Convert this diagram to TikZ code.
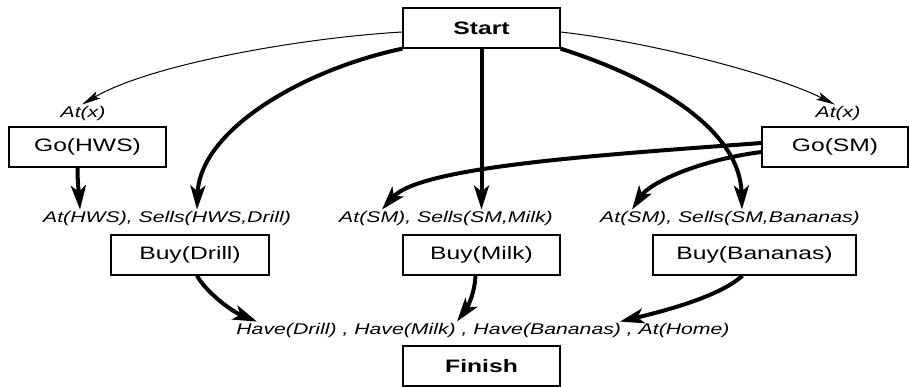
\documentclass[tikz,border=0pt]{standalone}
\usepackage{fontspec}
\setmainfont{Liberation Sans}[FakeStretch=1.37]
\usetikzlibrary{arrows.meta,calc}
\begin{document}
\begin{tikzpicture}[x=1pt,y=-1pt,
  act/.style={draw=black, line width=1.3pt, fill=white, minimum height=40pt,
    inner sep=0pt, font=\fontsize{18}{20}\selectfont},
  cond/.style={inner sep=1pt, font=\fontsize{15.5}{17}\selectfont\itshape},
  link/.style={line width=4pt, -{Stealth[length=24pt,width=15pt,inset=6pt]}},
  thinlink/.style={line width=1pt, -{Stealth[length=19pt,width=8pt,inset=4pt]}},
]
\useasboundingbox (0,0) rectangle (910,387);

% actions
\node[act, minimum width=157pt, font=\fontsize{18}{20}\selectfont\bfseries] (start) at (481.5,28) {Start};
\node[act, minimum width=157pt] (goh)  at (87.5,147) {Go(HWS)};
\node[act, minimum width=146pt] (gosm) at (835,147) {Go(SM)};
\node[act, minimum width=158pt] (buyd) at (190,255) {Buy(Drill)};
\node[act, minimum width=157pt] (buym) at (481.5,255) {Buy(Milk)};
\node[act, minimum width=203pt] (buyb) at (754.5,255) {Buy(Bananas)};
\node[act, minimum width=157pt, font=\fontsize{18}{20}\selectfont\bfseries] (finish) at (481.5,366) {Finish};

% preconditions
\node[cond] (atxl) at (83,113) {At(x)};
\node[cond] (atxr) at (838,113) {At(x)};
\node[cond] (preD) at (167,218) {At(HWS), Sells(HWS,Drill)};
\node[cond] (preM) at (446,218) {At(SM), Sells(SM,Milk)};
\node[cond] (preB) at (730,218) {At(SM), Sells(SM,Bananas)};
\node[cond] (have) at (483,330) {Have(Drill) , Have(Milk) , Have(Bananas) , At(Home)};

% causal links from Start
\draw[thinlink] ($(start.west)+(0,4)$) .. controls +(-103,6) and +(68,-40) .. ($(atxl.north)+(-1,0)$);
\draw[thinlink] ($(start.east)+(0,4)$) .. controls +(90,10) and +(-60,-30) .. ($(atxr.north)+(-3,0)$);
\draw[link] (start.south west) .. controls +(-103,22) and +(3,-78) .. ($(preD.north)+(30,0)$);
\draw[link] (start.south) -- (start.south |- preM.north);
\draw[link] (start.south east) .. controls +(100,32) and +(-2,-78) .. ($(preB.north)+(12,0)$);

% links from the Go actions
\draw[link] ($(goh.south)+(-10,0)$) .. controls +(0,15) and +(-1,-15) .. ($(preD.north)+(-87,0)$);
\draw[link] ($(gosm.west)+(0,-4)$) .. controls +(-162,12) and +(38,-43) .. ($(preM.north)+(-64,0)$);
\draw[link] ($(gosm.west)+(0,5)$) .. controls +(-62,8) and +(18,-27) .. ($(preB.north)+(-98,0)$);

% links to Finish
\draw[link] ($(buyd.south)+(7,0)$) .. controls +(8,15) and +(-27,-11) .. ($(have.north)+(-226,0)$);
\draw[link] ($(buym.south)+(-6,0)$) .. controls +(-1,20) and +(9,-12) .. ($(have.north)+(-26,0)$);
\draw[link] ($(buyb.south)+(-12,0)$) .. controls +(-22,20) and +(50,-12) .. ($(have.north)+(137,0)$);
\end{tikzpicture}
\end{document}
